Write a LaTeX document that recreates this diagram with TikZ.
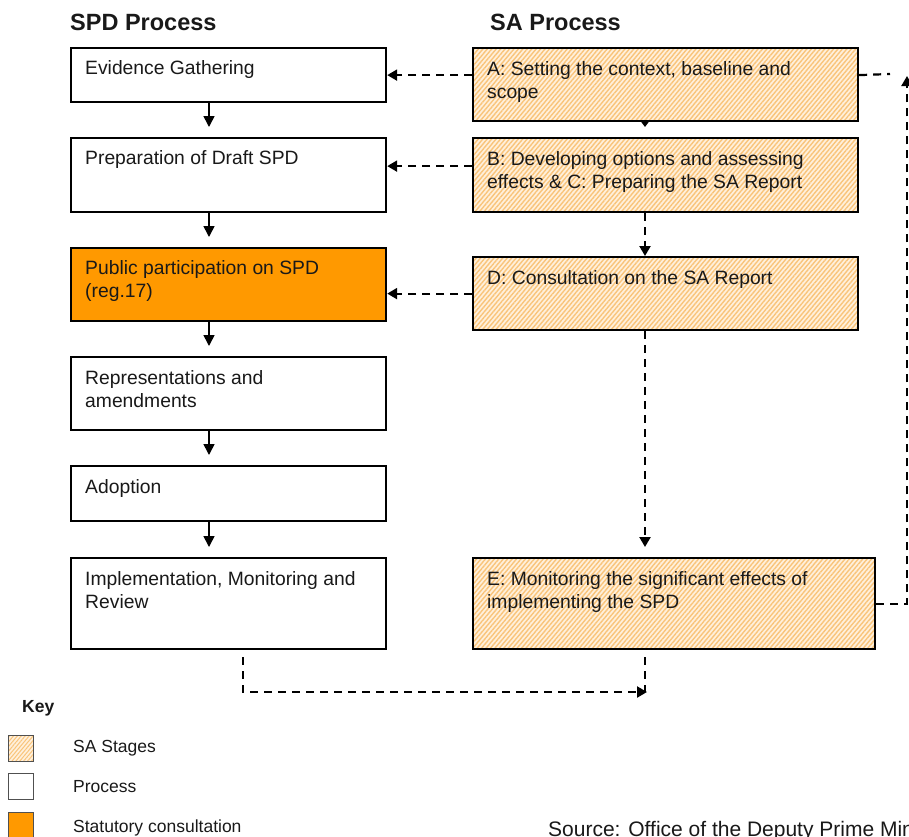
\documentclass[tikz,border=0pt]{standalone}
\usepackage{fontspec}
\setmainfont{Liberation Sans}
\usetikzlibrary{arrows.meta,patterns.meta}
\definecolor{hatchbg}{RGB}{255,240,220}
\definecolor{hatchln}{RGB}{249,196,122}
\definecolor{statorange}{RGB}{255,153,0}
\definecolor{txt}{RGB}{25,25,25}
\definecolor{keyborder}{RGB}{80,80,80}
\begin{document}
\begin{tikzpicture}[x=1pt,y=-1pt,
  box/.style={draw=black, line width=2.2pt, anchor=north west, inner sep=0pt},
  plain/.style={box, fill=white},
  stat/.style={box, fill=statorange},
  sa/.style={box, preaction={fill=hatchbg}, preaction={pattern={Lines[angle=50,distance=3.4pt,line width=1.4pt]}, pattern color=hatchln}},
  lbl/.style={anchor=north west, inner sep=0pt, align=left, font=\fontsize{19.3}{23}\selectfont, text=txt},
  head/.style={anchor=base west, inner sep=0pt, font=\fontsize{23.5}{28}\selectfont\bfseries, text=txt},
  keytext/.style={anchor=base west, inner sep=0pt, font=\fontsize{17.5}{21}\selectfont, text=txt},
  keybox/.style={draw=keyborder, line width=1.3pt, anchor=north west, inner sep=0pt, minimum width=25pt, minimum height=26pt},
  arr/.style={line width=1.6pt, -{Triangle[length=11pt,width=11pt]}, shorten >=10pt},
  darr/.style={line width=2.2pt, dash pattern=on 8pt off 6pt, -{Triangle[length=10pt,width=11pt]}},
  dline/.style={line width=2.2pt, dash pattern=on 8pt off 6pt},
]
\useasboundingbox (0,0) rectangle (909,836);

% headers
\node[head] (h1) at (70,30) {SPD Process};
\node[head] (h2) at (490,30) {SA Process};

% left column boxes
\node[plain, minimum width=315pt, minimum height=54pt] (ev) at (70,47) {};
\node[plain, minimum width=315pt, minimum height=74pt] (prep) at (70,137) {};
\node[stat,  minimum width=315pt, minimum height=73pt] (pub) at (70,247) {};
\node[plain, minimum width=315pt, minimum height=73pt] (rep) at (70,356) {};
\node[plain, minimum width=315pt, minimum height=55pt] (adop) at (70,465) {};
\node[plain, minimum width=315pt, minimum height=91pt] (impl) at (70,557) {};

% right column boxes
\node[sa, minimum width=385pt, minimum height=73pt] (A) at (472,47) {};
\node[sa, minimum width=385pt, minimum height=74pt] (B) at (472,137) {};
\node[sa, minimum width=385pt, minimum height=73pt] (D) at (472,256) {};
\node[sa, minimum width=402pt, minimum height=91pt] (E) at (472,557) {};

% texts
\node[lbl] (evt) at (85,60) {Evidence Gathering};
\node[lbl] (prept) at (85,150) {Preparation of Draft SPD};
\node[lbl] (pubt) at (85,260) {Public participation on SPD\\(reg.17)};
\node[lbl] (rept) at (85,370) {Representations and\\amendments};
\node[lbl] (adopt) at (85,479) {Adoption};
\node[lbl] (implt) at (85,571) {Implementation, Monitoring and\\Review};
\node[lbl] (At) at (487,61) {A: Setting the context, baseline and\\scope};
\node[lbl] (Bt) at (487,151) {B: Developing options and assessing\\effects \& C: Preparing the SA Report};
\node[lbl] (Dt) at (487,270) {D: Consultation on the SA Report};
\node[lbl] (Et) at (487,571) {E: Monitoring the significant effects of\\implementing the SPD};

% helper coordinates
\coordinate (cl) at (209,0);
\coordinate (cr) at (645,0);
\coordinate (rx) at (907,76);
\coordinate (astub) at (890,74);
\coordinate (bl) at (243,692);
\coordinate (br) at (647,692);

% solid arrows, left column
\draw[arr] (ev.south -| cl) -- (prep.north -| cl);
\draw[arr] (prep.south -| cl) -- (pub.north -| cl);
\draw[arr] (pub.south -| cl) -- (rep.north -| cl);
\draw[arr] (rep.south -| cl) -- (adop.north -| cl);
\draw[arr] (adop.south -| cl) -- (impl.north -| cl);

% right column
\draw[line width=1.6pt, -{Triangle[length=7pt,width=10pt]}, shorten >=10pt] (A.south -| cr) -- (B.north -| cr);
\draw[darr] (B.south -| cr) -- (D.north -| cr);
\draw[darr, shorten >=10pt] (D.south -| cr) -- (E.north -| cr);

% horizontal dashed arrows
\draw[darr] ([yshift=9.5pt]A.west) -- ([yshift=9.5pt]A.west -| ev.east);
\draw[darr] ([yshift=9pt]B.west) -- ([yshift=9pt]B.west -| prep.east);
\draw[darr] (D.west) -- (D.west -| pub.east);

% loop on the right
\draw[darr] (E.east) -- (E.east -| rx) -- (rx);
\draw[dline] ([yshift=9.5pt]A.east) -- (astub);

% bottom loop
\draw[darr] ([yshift=-7pt]impl.south -| bl) -- (bl) -- (br);
\draw[dline] ([yshift=-7pt]E.south -| cr) -- (cr |- br);

% key
\node[anchor=base west, inner sep=0pt, font=\fontsize{17.5}{21}\selectfont\bfseries, text=txt] (key) at (22,712) {Key};
\node[keybox, preaction={fill=hatchbg}, preaction={pattern={Lines[angle=50,distance=3pt,line width=1pt]}, pattern color=hatchln}] (k1) at (8,735) {};
\node[keybox, fill=white] (k2) at (8,773) {};
\node[keybox, fill=statorange] (k3) at (8,812) {};
\node[keytext] (k1t) at (73,752) {SA Stages};
\node[keytext] (k2t) at (73,792) {Process};
\node[keytext] (k3t) at (73,832) {Statutory consultation};

% source
\node[anchor=base west, inner sep=0pt, font=\fontsize{21}{25}\selectfont, text=txt] (src) at (548,836) {Source: Office of the Deputy Prime Minister};
\end{tikzpicture}
\end{document}
